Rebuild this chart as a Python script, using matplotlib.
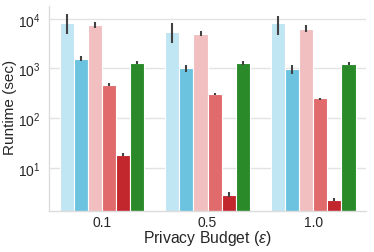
import matplotlib
matplotlib.use("Agg")
import matplotlib.pyplot as plt
import numpy as np

plt.rcParams['font.family'] = ['Liberation Sans', 'DejaVu Sans']
plt.rcParams['mathtext.fontset'] = 'custom'
plt.rcParams['mathtext.rm'] = 'Liberation Sans'
plt.rcParams['mathtext.it'] = 'Liberation Sans:italic'

budgets = ["0.1", "0.5", "1.0"]
colors = ["#c0e5f3", "#6bc3e0", "#f2bfc1", "#e16b6c", "#c1272d", "#2a8a2a"]

# series values (one list per method, across budgets)
s1 = [8160, 5480, 8050]
s2 = [1545, 1018, 960]
s3 = [7350, 5000, 6210]
s4 = [473, 312, 248]
s5 = [18.2, 2.83, 2.24]
s6 = [1283, 1283, 1230]

s1_lo = [4840, 3300, 4630]; s1_hi = [12200, 8300, 11500]
s2_lo = [1416, 863, 775];   s2_hi = [1750, 1175, 1175]
s3_lo = [6500, 4420, 5410]; s3_hi = [8590, 5740, 7330]
s4_lo = [446, 294, 236];    s4_hi = [519, 327, 259]
s5_lo = [17.3, 2.58, 2.1];  s5_hi = [19.5, 3.2, 2.5]
s6_lo = [1208, 1175, 1175]; s6_hi = [1436, 1415, 1370]

series = [s1, s2, s3, s4, s5, s6]
lows = [s1_lo, s2_lo, s3_lo, s4_lo, s5_lo, s6_lo]
highs = [s1_hi, s2_hi, s3_hi, s4_hi, s5_hi, s6_hi]

fig = plt.figure(figsize=(3.74, 2.53), dpi=100)
ax = fig.add_axes([0.131, 0.163, 0.848, 0.809])

n = len(series)
group_w = 0.8
bw = group_w / n
x = np.arange(len(budgets))
for i, (vals, lo, hi, c) in enumerate(zip(series, lows, highs, colors)):
    pos = x - group_w / 2 + bw * (i + 0.5)
    vals = np.array(vals)
    ax.bar(pos, vals, width=bw, color=c, edgecolor='white', linewidth=0.8, zorder=2)
    ax.vlines(pos, lo, hi, color='#424242', linewidth=1.5, zorder=3)

ax.set_yscale('log')
ax.set_ylim(1.36, 18000)
ax.set_xlim(-0.5, 2.5)
ax.set_xticks(x)
ax.set_xticklabels(budgets)
ax.set_yticks([10, 100, 1000, 10000])
ax.yaxis.set_minor_locator(matplotlib.ticker.NullLocator())
ax.grid(axis='y', color='#e3e3e3', linewidth=1, zorder=0)
ax.set_axisbelow(True)
for s in ['top', 'right']:
    ax.spines[s].set_visible(False)
for s in ['left', 'bottom']:
    ax.spines[s].set_color('#dcdcdc')
    ax.spines[s].set_linewidth(1)
ax.tick_params(axis='both', length=0, labelsize=10, colors='#262626')
ax.tick_params(axis='x', pad=3)
ax.tick_params(axis='y', pad=6)
ax.set_xlabel(r'Privacy Budget ($\varepsilon$)', fontsize=11.3, color='#262626')
ax.set_ylabel('Runtime (sec)', fontsize=11, color='#262626')
ax.yaxis.set_label_coords(-0.122, 0.51)
ax.xaxis.set_label_coords(0.5, -0.132)
ax.xaxis.label.set_va('center')
ax.yaxis.label.set_va('center')

fig.savefig('out.png', dpi=100)
